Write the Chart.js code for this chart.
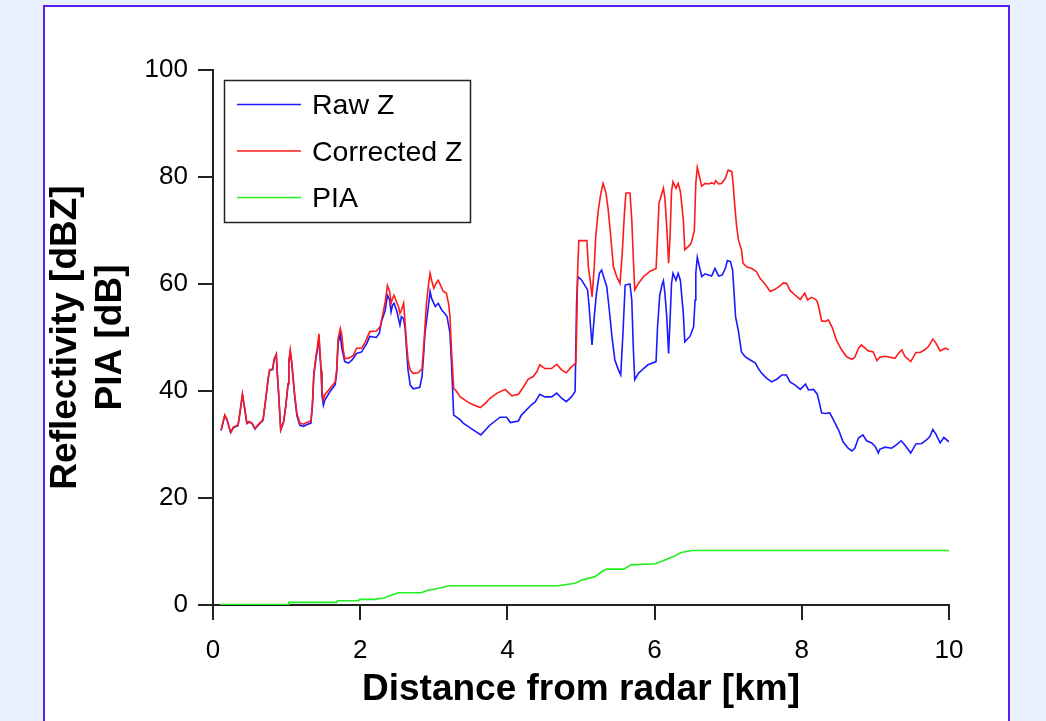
<!DOCTYPE html>
<html>
<head>
<meta charset="utf-8">
<title>Reflectivity and PIA</title>
<script src="https://cdn.jsdelivr.net/npm/chart.js@4.4.0/dist/chart.umd.min.js"></script>
<style>
    html, body { margin: 0; padding: 0; width: 1046px; height: 721px; overflow: hidden; background: #e8f1fd; }
    #panel { position: absolute; left: 43px; top: 5px; width: 963px; height: 740px; background: #fff;
             border: 2px solid #5a1ef0; border-bottom: none; }
    #chart { position: absolute; left: 0; top: 0; }
</style>
</head>
<body>
<div id="panel"></div>
<canvas id="chart" width="1046" height="721"></canvas>
<script>
// Data (distance in km)
const rawKm = [0.11,0.16,0.19,0.24,0.28,0.34,0.37,0.40,0.43,0.46,0.49,0.53,0.57,0.62,0.68,0.72,0.75,0.77,0.81,0.83,0.86,0.87,0.89,0.91,0.92,0.96,0.99,1.02,1.03,1.05,1.07,1.09,1.11,1.14,1.18,1.23,1.27,1.33,1.35,1.37,1.40,1.42,1.44,1.45,1.47,1.48,1.50,1.52,1.59,1.66,1.68,1.70,1.73,1.75,1.79,1.84,1.89,1.95,2.02,2.09,2.13,2.22,2.26,2.29,2.34,2.37,2.40,2.42,2.44,2.46,2.50,2.54,2.56,2.59,2.61,2.63,2.65,2.68,2.72,2.81,2.84,2.86,2.88,2.92,2.95,2.97,3.02,3.06,3.11,3.15,3.18,3.22,3.24,3.27,3.36,3.40,3.54,3.64,3.76,3.90,3.99,4.04,4.15,4.19,4.31,4.38,4.44,4.51,4.60,4.67,4.74,4.80,4.87,4.92,4.94,4.955,5.01,5.05,5.09,5.11,5.13,5.15,5.18,5.21,5.25,5.28,5.30,5.35,5.385,5.42,5.46,5.51,5.54,5.57,5.60,5.665,5.69,5.71,5.73,5.78,5.85,5.91,6.02,6.04,6.07,6.10,6.12,6.14,6.165,6.19,6.21,6.23,6.25,6.29,6.32,6.35,6.39,6.41,6.48,6.53,6.55,6.56,6.58,6.61,6.64,6.685,6.73,6.775,6.82,6.87,6.92,6.96,6.99,7.03,7.06,7.08,7.10,7.14,7.16,7.18,7.23,7.30,7.37,7.41,7.455,7.52,7.59,7.66,7.73,7.79,7.84,7.91,7.98,8.05,8.09,8.16,8.21,8.24,8.27,8.32,8.38,8.43,8.50,8.56,8.63,8.68,8.72,8.77,8.83,8.88,8.95,9.00,9.04,9.06,9.13,9.22,9.28,9.35,9.40,9.48,9.55,9.63,9.69,9.74,9.78,9.82,9.88,9.93,10.0];
const rawZ = [32.6,35.4,34.6,32.2,33.2,33.5,36.3,39.3,36.7,33.9,34.2,33.9,32.9,33.7,34.5,38.8,42.3,43.9,44.0,45.8,46.8,44.1,39.8,35.1,32.7,34.2,37.3,41.3,45.3,47.3,45.1,42.0,38.9,35.4,33.6,33.4,33.7,34.0,37.0,42.8,46.2,47.8,50.2,47.5,43.3,39.2,37.3,38.3,39.9,41.2,43.3,49.0,50.5,48.0,45.5,45.2,45.8,47.0,47.3,48.9,50.2,50.0,50.8,53.0,55.1,57.9,57.0,54.8,56.1,56.4,54.8,52.3,53.9,53.5,51.7,47.7,43.9,41.1,40.4,40.7,42.7,46.4,50.8,55.1,58.6,57.3,55.8,56.4,55.1,54.5,53.9,50.8,45.2,35.5,34.6,34.0,32.7,31.8,33.6,35.1,35.1,34.1,34.4,35.5,37.2,38.0,39.4,38.9,38.9,39.6,38.6,38.0,38.9,39.9,56.4,61.4,60.7,59.8,58.9,55.8,52.0,48.6,53.9,58.3,62.0,62.6,61.7,59.5,55.1,50.2,45.8,43.9,43.0,50.8,59.8,60.0,57.0,48.3,42.1,43.3,44.2,44.9,45.5,52.0,57.9,59.8,60.6,58.3,53.9,47.0,53.3,60.1,62.0,60.7,62.0,60.7,54.5,49.2,50.2,52.0,57.0,62.0,65.0,63.2,61.4,61.9,61.7,61.5,62.9,61.5,61.7,62.9,64.4,64.2,62.6,58.3,53.9,51.1,49.2,47.3,46.4,45.8,45.2,44.2,43.3,42.4,41.7,42.2,43.0,43.0,41.7,41.1,40.3,41.3,40.2,40.3,39.4,37.7,35.9,35.8,35.9,34.6,32.7,30.5,29.3,28.8,29.3,31.2,31.8,30.7,30.3,29.6,28.4,29.1,29.5,29.3,29.9,30.7,29.9,28.4,30.1,30.2,30.8,31.5,32.8,32.0,30.3,31.3,30.5];

const corrKm = [0.11,0.16,0.19,0.24,0.28,0.34,0.37,0.40,0.43,0.46,0.49,0.53,0.57,0.62,0.68,0.72,0.75,0.77,0.81,0.83,0.86,0.87,0.89,0.91,0.92,0.96,0.99,1.02,1.03,1.05,1.07,1.09,1.11,1.14,1.18,1.23,1.27,1.33,1.35,1.37,1.40,1.42,1.44,1.45,1.47,1.48,1.50,1.52,1.59,1.66,1.68,1.70,1.73,1.75,1.77,1.79,1.84,1.91,1.95,2.02,2.07,2.13,2.22,2.27,2.31,2.34,2.37,2.40,2.42,2.44,2.46,2.50,2.52,2.54,2.56,2.59,2.61,2.63,2.65,2.68,2.72,2.79,2.84,2.86,2.88,2.90,2.93,2.95,2.97,3.00,3.03,3.06,3.10,3.13,3.17,3.20,3.22,3.24,3.27,3.31,3.36,3.49,3.63,3.70,3.76,3.86,3.97,4.06,4.15,4.22,4.28,4.35,4.40,4.44,4.51,4.60,4.67,4.74,4.80,4.87,4.93,4.94,4.955,4.97,5.08,5.10,5.13,5.15,5.18,5.20,5.235,5.27,5.30,5.34,5.37,5.40,5.44,5.485,5.53,5.56,5.59,5.61,5.665,5.69,5.71,5.73,5.78,5.85,5.94,6.02,6.04,6.06,6.10,6.12,6.14,6.165,6.19,6.21,6.23,6.25,6.29,6.32,6.35,6.39,6.41,6.48,6.50,6.54,6.56,6.58,6.61,6.64,6.685,6.73,6.775,6.81,6.83,6.87,6.91,6.96,7.00,7.05,7.07,7.09,7.115,7.14,7.18,7.20,7.25,7.32,7.385,7.43,7.50,7.57,7.635,7.70,7.75,7.795,7.84,7.91,7.98,8.04,8.08,8.13,8.19,8.21,8.24,8.27,8.32,8.36,8.41,8.47,8.54,8.61,8.68,8.72,8.77,8.81,8.86,8.90,8.97,9.02,9.06,9.13,9.20,9.265,9.31,9.36,9.40,9.48,9.55,9.61,9.67,9.72,9.78,9.82,9.88,9.95,10.0];
const corrZ = [32.7,35.5,34.7,32.3,33.3,33.6,36.4,39.4,36.8,34.0,34.3,34.0,33.0,33.8,34.6,38.9,42.4,44.0,44.1,45.9,46.9,44.2,39.9,35.2,32.8,34.3,37.4,41.4,45.5,47.7,45.5,42.4,39.3,35.8,34.0,33.8,34.1,34.4,37.4,43.3,46.7,48.3,50.7,48.0,43.9,40.2,38.3,39.3,40.5,41.7,43.9,49.8,51.7,50.5,47.7,46.1,46.1,46.7,48.0,48.0,49.2,51.1,51.2,52.0,54.5,56.7,59.7,58.6,56.4,57.3,57.9,56.4,55.8,54.5,55.1,56.4,52.7,48.9,45.8,43.9,43.3,43.4,44.2,47.7,52.0,56.4,60.1,62.0,60.7,59.2,60.1,60.7,59.5,58.6,58.3,56.4,53.9,47.7,40.5,39.9,38.9,37.7,36.9,37.7,38.6,39.6,40.3,39.1,39.4,40.8,42.2,42.7,43.6,44.9,44.2,44.2,45.0,43.9,43.4,44.5,45.2,50.8,62.6,68.1,68.1,63.2,60.1,57.6,63.2,68.8,73.8,77.0,78.8,77.0,73.8,69.5,63.2,61.4,60.1,65.7,73.2,77.0,77.0,72.0,65.1,58.9,60.1,61.4,62.4,62.9,68.8,75.1,77.0,77.9,76.0,70.7,63.9,68.8,77.3,79.1,77.9,78.8,77.3,72.0,66.4,67.3,67.8,70.0,78.8,81.8,80.1,78.3,78.8,78.7,78.9,78.7,79.3,78.7,78.8,79.7,81.3,81.0,78.2,74.5,70.7,68.2,66.4,63.9,63.2,62.9,62.3,61.1,60.0,58.6,59.0,59.6,60.2,60.1,58.8,57.9,57.1,58.3,57.0,57.5,57.1,56.7,55.1,53.1,53.0,53.3,52.0,49.5,47.7,46.4,45.9,46.3,48.0,48.6,48.0,47.5,47.3,45.7,46.3,46.5,46.3,46.1,47.0,47.7,46.5,45.5,47.2,47.2,47.7,48.3,49.7,49.0,47.5,48.0,47.7];

const piaKm = [0.1,1.02,1.03,1.68,1.69,1.98,1.99,2.19,2.32,2.42,2.52,2.83,2.91,3.05,3.21,4.69,4.92,5.02,5.19,5.29,5.35,5.58,5.68,6.01,6.14,6.28,6.36,6.51,10.0];
const piaDb = [0.1,0.1,0.5,0.5,0.8,0.8,1.06,1.06,1.3,1.8,2.3,2.3,2.7,3.1,3.6,3.6,4.05,4.7,5.3,6.3,6.7,6.7,7.5,7.7,8.4,9.2,9.8,10.2,10.2];

const seriesLabels = ['Raw Z', 'Corrected Z', 'PIA'];
const xTickStep = 2;
const yTickStep = 20;

const FONT = '"Liberation Sans", Arial, Helvetica, sans-serif';
const AXIS_COLOR = '#222';

function toPoints(xs, ys) {
    return xs.map((x, i) => ({ x: x, y: ys[i] }));
}

// Legend drawn as a framed box inside the plot
const legendBox = {
    id: 'legendBox',
    afterDatasetsDraw(chart) {
        const ctx = chart.ctx;
        ctx.save();
        ctx.fillStyle = '#fff';
        ctx.fillRect(224, 80, 246, 142);
        ctx.strokeStyle = AXIS_COLOR;
        ctx.lineWidth = 1.5;
        ctx.strokeRect(224.5, 80.5, 246, 142);
        ctx.font = '28.5px ' + FONT;
        ctx.textBaseline = 'middle';
        chart.data.datasets.forEach((ds, i) => {
            const y = 104.5 + i * 46.5;
            ctx.strokeStyle = ds.borderColor;
            ctx.lineWidth = 1.5;
            ctx.beginPath();
            ctx.moveTo(237, y);
            ctx.lineTo(301, y);
            ctx.stroke();
            ctx.fillStyle = '#000';
            ctx.fillText(ds.label, 312, y + 2);
        });
        ctx.restore();
    }
};

new Chart(document.getElementById('chart'), {
    type: 'line',
    data: {
        datasets: [
            { label: seriesLabels[0], data: toPoints(rawKm, rawZ), borderColor: '#1a1aff', order: 1 },
            { label: seriesLabels[1], data: toPoints(corrKm, corrZ), borderColor: '#ff1a1a', order: 0 },
            { label: seriesLabels[2], data: toPoints(piaKm, piaDb), borderColor: '#22ee22', order: 2 }
        ]
    },
    options: {
        responsive: false,
        animation: false,
        layout: { padding: { left: 0, top: 70, right: 97, bottom: 0 } },
        elements: {
            point: { radius: 0 },
            line: { tension: 0, borderWidth: 1.6, fill: false }
        },
        plugins: {
            legend: { display: false },
            tooltip: { enabled: false }
        },
        scales: {
            x: {
                type: 'linear',
                min: 0,
                max: 10,
                afterFit: (scale) => { scale.height = 116; },
                ticks: { stepSize: xTickStep, color: '#000', padding: 15, font: { family: FONT, size: 26 } },
                grid: { drawOnChartArea: false, drawTicks: true, tickLength: 15, color: AXIS_COLOR, lineWidth: 2 },
                border: { display: true, color: AXIS_COLOR, width: 2 },
                title: {
                    display: true,
                    text: 'Distance from radar [km]',
                    color: '#000',
                    font: { family: FONT, size: 37, weight: 'bold', lineHeight: 1.2 },
                    padding: { top: 0, bottom: 9 }
                }
            },
            y: {
                min: 0,
                max: 100,
                afterFit: (scale) => { scale.width = 213; },
                ticks: { stepSize: yTickStep, color: '#000', padding: 10, font: { family: FONT, size: 26 } },
                grid: { drawOnChartArea: false, drawTicks: true, tickLength: 15, color: AXIS_COLOR, lineWidth: 2 },
                border: { display: true, color: AXIS_COLOR, width: 2 },
                title: {
                    display: true,
                    text: ['Reflectivity [dBZ]', 'PIA [dB]'],
                    color: '#000',
                    font: { family: FONT, size: 37, weight: 'bold', lineHeight: 1.22 },
                    padding: { top: 43, bottom: 0 }
                }
            }
        }
    },
    plugins: [legendBox]
});
</script>
</body>
</html>
